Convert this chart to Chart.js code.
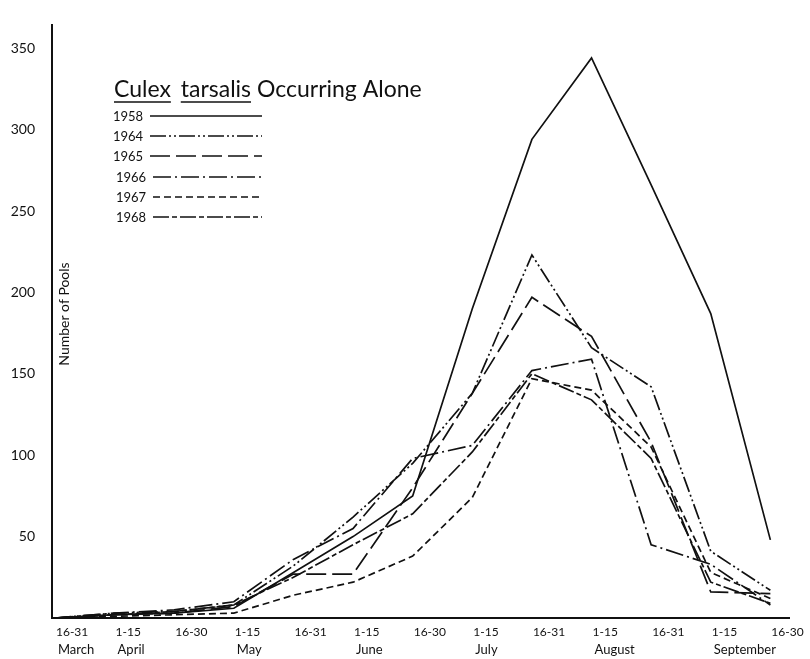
<!DOCTYPE html>
<html>
<head>
<meta charset="utf-8">
<style>
  html, body { margin: 0; padding: 0; background: #fff; }
</style>
<script src="https://cdn.jsdelivr.net/npm/chart.js@4.4.1/dist/chart.umd.min.js"></script>
</head>
<body>
<canvas id="pools" width="810" height="659"></canvas>
<script>
// half-month periods along the bottom, month names under the first half
const periods = ['16-31', '1-15', '16-30', '1-15', '16-31', '1-15', '16-30', '1-15', '16-31', '1-15', '16-31', '1-15', '16-30']
const months = ['March', 'April', '', 'May', '', 'June', '', 'July', '', 'August', '', 'September', '']
const yTicks = [50, 100, 150, 200, 250, 300, 350]

const years = ['1958', '1964', '1965', '1966', '1967', '1968']
const pools1958 = [0, 2, 3, 6, 28, 50, 75, 190, 294, 344, 266, 187, 48]
const pools1964 = [0, 3, 4, 8, 32, 62, 95, 138, 223, 166, 142, 41, 17]
const pools1965 = [0, 2, 3, 7, 27, 27, 80, 138, 197, 173, 108, 16, 15]
const pools1966 = [0, 3, 5, 10, 36, 55, 98, 106, 152, 159, 45, 33, 8]
const pools1967 = [0, 1, 2, 3, 14, 22, 38, 74, 147, 140, 105, 28, 12]
const pools1968 = [0, 2, 4, 8, 25, 45, 64, 102, 150, 134, 98, 22, 9]

const allPools = [pools1958, pools1964, pools1965, pools1966, pools1967, pools1968]

// line style for each year, same order as years
const dashes = [
  [],
  [16, 3, 2, 3, 2, 3],
  [20, 6],
  [18, 4, 2, 4],
  [7, 4],
  [16, 3, 5, 3]
]

const ink = '#111'
const font = 'Lato, "Noto Sans", sans-serif'

// the key in the upper left: title with underlined species name, then year + line sample
const yearKey = {
  id: 'yearKey',
  afterDraw(chart) {
    const ctx = chart.ctx
    ctx.save()
    ctx.fillStyle = ink
    ctx.strokeStyle = ink
    ctx.textBaseline = 'alphabetic'

    ctx.font = '23px ' + font
    let x = 114
    const titleY = 97
    const words = ['Culex', ' ', 'tarsalis', ' Occurring Alone']
    words.forEach((w, i) => {
      const wd = ctx.measureText(w).width
      ctx.fillText(w, x, titleY)
      if (i === 0 || i === 2) {
        ctx.lineWidth = 1.5
        ctx.beginPath()
        ctx.moveTo(x, titleY + 5)
        ctx.lineTo(x + wd, titleY + 5)
        ctx.stroke()
      }
      x += (i === 1) ? wd + 4 : wd
    })

    ctx.font = '13px ' + font
    const rowTops = [121, 141, 161, 182, 202, 222]
    years.forEach((yr, i) => {
      const tx = i < 3 ? 113 : 116
      ctx.fillText(yr, tx, rowTops[i])
      ctx.lineWidth = 1.6
      ctx.setLineDash(dashes[i])
      ctx.beginPath()
      ctx.moveTo(tx + 37, rowTops[i] - 5)
      ctx.lineTo(262, rowTops[i] - 5)
      ctx.stroke()
      ctx.setLineDash([])
    })

    // y title sits inside the plot next to the axis
    ctx.font = '14px ' + font
    ctx.translate(64, 314)
    ctx.rotate(-Math.PI / 2)
    ctx.textAlign = 'center'
    ctx.textBaseline = 'middle'
    ctx.fillText('Number of Pools', 0, 0)
    ctx.restore()
  }
}

const datasets = allPools.map((vals, i) => ({
  label: years[i],
  data: vals.map((v, j) => ({x: j, y: v})),
  borderColor: ink,
  borderWidth: 1.7,
  borderDash: dashes[i],
  pointRadius: 0,
  tension: 0,
  fill: false
}))

const periodTicks = s => { s.ticks = periods.map((p, i) => ({value: i})) }

new Chart(document.getElementById('pools'), {
  type: 'line',
  data: {datasets},
  options: {
    responsive: false,
    animation: false,
    devicePixelRatio: 1,
    layout: {padding: {top: 10, right: 13, left: 0, bottom: 0}},
    plugins: {legend: {display: false}, tooltip: {enabled: false}},
    scales: {
      x: {
        type: 'linear',
        min: -0.05,
        max: 12.315,
        grid: {display: false, drawTicks: false},
        border: {color: ink, width: 2},
        afterBuildTicks: periodTicks,
        afterFit: s => { s.height = 22 },
        ticks: {
          callback: v => periods[v],
          align: 'start',
          labelOffset: 1,
          padding: 7,
          maxRotation: 0,
          minRotation: 0,
          autoSkip: false,
          color: ink,
          font: {family: font, size: 12}
        }
      },
      months: {
        type: 'linear',
        axis: 'x',
        position: 'bottom',
        min: -0.05,
        max: 12.315,
        grid: {display: false, drawTicks: false},
        border: {display: false},
        afterBuildTicks: periodTicks,
        afterFit: s => { s.height = 19 },
        ticks: {
          callback: v => months[v],
          align: 'start',
          labelOffset: 3,
          padding: 2,
          maxRotation: 0,
          minRotation: 0,
          autoSkip: false,
          color: ink,
          font: {family: font, size: 13}
        }
      },
      y: {
        min: 0,
        max: 364,
        grid: {display: false, drawTicks: false},
        border: {color: ink, width: 2},
        afterBuildTicks: s => { s.ticks = yTicks.map(v => ({value: v})) },
        afterFit: s => { s.width = 52 },
        ticks: {
          padding: 17,
          color: ink,
          font: {family: font, size: 14}
        }
      }
    }
  },
  plugins: [yearKey]
})
</script>
</body>
</html>
